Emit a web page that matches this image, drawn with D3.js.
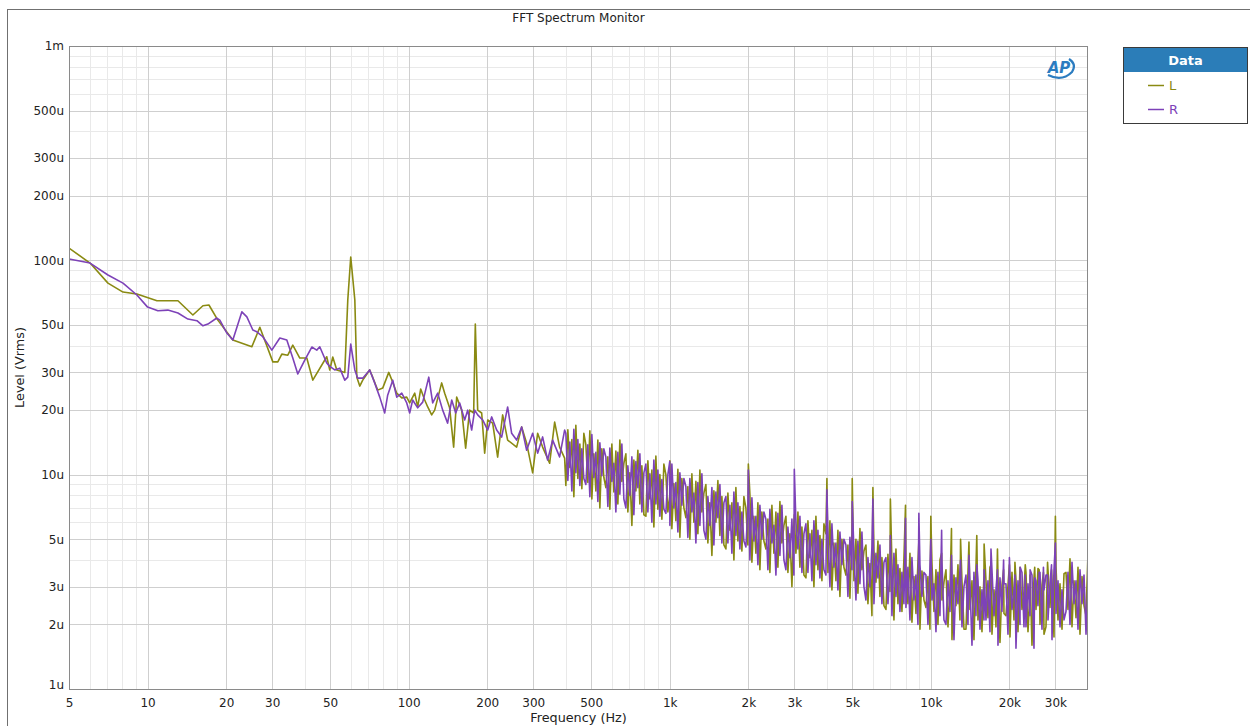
<!DOCTYPE html>
<html>
<head>
<meta charset="utf-8">
<script src="https://cdn.jsdelivr.net/npm/d3@7"></script>
<style>
  html, body { margin: 0; padding: 0; background: #fff; }
  svg { display: block; font-family: "DejaVu Sans", sans-serif; }
</style>
</head>
<body>
<svg id="chart" width="1250" height="726"></svg>
<script>
// ---- axis ticks ----
const xTickValues = [5, 10, 20, 30, 50, 100, 200, 300, 500, 1000, 2000, 3000, 5000, 10000, 20000, 30000];
const xTickLabels = ["5", "10", "20", "30", "50", "100", "200", "300", "500", "1k", "2k", "3k", "5k", "10k", "20k", "30k"];
const yTickValues = [1000, 500, 300, 200, 100, 50, 30, 20, 10, 5, 3, 2, 1];
const yTickLabels = ["1m", "500u", "300u", "200u", "100u", "50u", "30u", "20u", "10u", "5u", "3u", "2u", "1u"];

// ---- low-frequency bins (Hz) and levels (µVrms) ----
const lowFreqL = [5.0, 6.02, 7.05, 8.05, 9.10, 10.86, 13.07, 14.91, 16.29, 17.18, 18.58, 21.21, 25.08, 26.91, 30.18, 31.54, 32.67, 34.44, 35.99, 38.28, 40.72, 42.93, 48.55, 49.87, 51.2, 53.05, 56.93, 58.45, 60.0, 62.2, 63.3, 64.97, 66.7, 70.9, 72.8, 76.1, 79.6, 83.9, 86.9, 90.0, 94.1, 98.3, 100.9, 105.5, 108.3, 111.2, 115.2, 118.3, 122.5, 125.8, 133.8, 137.4, 143.5, 148.7, 152.7, 159.6, 165.3, 171.2, 177.4, 180.0, 183.8, 190.4, 195.5, 200.8, 209.8, 219.2, 229.1, 239.4, 259.2, 270.9, 283.1, 298.5, 311.9, 325.9, 346.7, 362.4, 378.6, 395.7];
const lowLevelL = [114.1, 97.1, 78.3, 71.1, 69.6, 64.8, 64.8, 55.6, 61.4, 61.9, 52.6, 42.5, 39.5, 48.7, 33.6, 33.6, 36.5, 36.1, 40.2, 35.0, 35.0, 27.6, 35.5, 30.8, 35.4, 30.8, 30.0, 65.3, 103.6, 65.3, 28.5, 25.9, 27.6, 30.8, 28.5, 24.8, 25.4, 30.0, 27.0, 24.0, 22.8, 23.0, 21.6, 24.0, 20.7, 25.1, 22.3, 20.7, 19.0, 20.0, 26.8, 24.0, 20.5, 13.45, 23.0, 20.0, 13.3, 20.0, 19.4, 50.5, 20.0, 19.4, 12.6, 18.0, 17.4, 12.08, 19.0, 14.5, 13.45, 16.7, 14.0, 10.2, 15.6, 13.45, 11.3, 17.6, 13.45, 11.95];

const lowFreqR = [5.0, 6.02, 7.05, 8.05, 9.10, 10.0, 10.95, 11.96, 13.07, 14.27, 15.45, 16.29, 17.02, 18.42, 18.91, 20.12, 21.21, 22.97, 24.0, 25.30, 26.21, 27.63, 29.91, 32.10, 34.14, 35.99, 37.61, 40.0, 42.56, 44.46, 45.65, 48.55, 49.87, 52.1, 54.46, 56.93, 58.45, 60.0, 62.2, 63.8, 66.7, 70.9, 74.1, 77.5, 80.96, 83.1, 86.9, 90.0, 94.1, 98.3, 100.9, 103.6, 108.3, 113.2, 119.4, 123.6, 129.2, 135.0, 141.0, 146.2, 151.4, 156.8, 163.9, 168.3, 174.3, 179.0, 183.8, 192.1, 200.8, 207.9, 217.3, 227.1, 239.4, 248.0, 259.2, 270.9, 283.1, 298.5, 311.9, 325.9, 340.6, 356.0, 378.6, 395.7];
const lowLevelR = [101.4, 97.1, 85.4, 78.3, 68.9, 60.5, 58.2, 58.6, 56.8, 53.2, 52.3, 49.5, 50.4, 53.8, 52.6, 45.8, 42.5, 57.5, 54.5, 47.3, 46.4, 44.0, 38.1, 43.4, 42.5, 35.0, 29.5, 34.2, 39.4, 38.1, 39.5, 33.2, 32.0, 30.8, 31.4, 27.6, 28.5, 40.7, 30.8, 28.2, 28.2, 30.8, 26.8, 23.0, 19.4, 23.5, 27.6, 23.0, 24.0, 21.6, 19.4, 22.3, 20.5, 21.8, 28.5, 21.6, 24.0, 20.0, 17.4, 22.3, 19.4, 21.6, 18.0, 20.0, 16.15, 20.0, 19.0, 18.0, 16.15, 18.6, 16.15, 14.97, 20.7, 15.6, 14.5, 16.7, 13.0, 15.6, 12.6, 15.0, 11.7, 14.5, 12.1, 16.15];

// ---- dense spectrum above 400 Hz: levels (µVrms) on a log-spaced display grid ----
const denseStartHz = 400;
const denseEndHz = 40000;
const denseLevelL = [
  8.9, 16.2, 10.8, 14.6, 7.9, 17.0, 9.6, 13.9, 8.6, 15.6,
  13.8, 9.2, 16.0, 7.7, 12.5, 8.4, 14.5, 7.0, 13.2, 9.7,
  8.7, 12.1, 6.9, 13.9, 8.3, 12.9, 7.3, 14.5, 9.3, 11.3,
  12.5, 6.7, 10.2, 5.8, 11.7, 8.4, 13.0, 7.3, 11.0, 6.5,
  6.4, 11.6, 7.7, 10.5, 5.7, 12.2, 6.9, 10.0, 6.2, 11.2,
  10.0, 6.7, 11.6, 5.6, 9.1, 6.1, 10.6, 5.1, 9.6, 7.0,
  6.3, 8.8, 5.0, 10.1, 6.0, 9.3, 5.3, 10.5, 6.7, 8.2,
  9.0, 4.8, 7.4, 4.2, 8.4, 6.0, 9.4, 5.2, 7.9, 4.7,
  4.5, 8.2, 5.5, 7.4, 4.0, 8.7, 4.9, 7.1, 4.4, 7.9,
  7.0, 4.7, 8.1, 3.9, 6.4, 4.3, 7.4, 3.6, 6.7, 4.9,
  4.5, 6.2, 3.5, 7.2, 4.3, 6.7, 3.7, 7.5, 4.8, 5.8,
  6.4, 3.5, 5.3, 3.0, 6.0, 4.3, 6.7, 3.7, 5.7, 3.4,
  3.3, 6.1, 4.1, 5.5, 3.0, 6.4, 3.6, 5.2, 3.2, 5.9,
  5.3, 3.5, 6.1, 2.9, 4.8, 3.2, 5.5, 2.7, 5.0, 3.7,
  3.4, 4.7, 2.65, 5.4, 3.2, 5.0, 2.8, 5.6, 3.6, 4.4,
  4.7, 2.5, 3.85, 2.2, 4.4, 3.15, 4.9, 2.7, 4.1, 2.45,
  2.35, 4.25, 2.85, 3.85, 2.1, 4.5, 2.5, 3.65, 2.3, 4.1,
  3.7, 2.5, 4.3, 2.05, 3.35, 2.25, 3.9, 1.9, 3.55, 2.6,
  2.4, 3.35, 1.9, 3.85, 2.3, 3.6, 2.0, 4.0, 2.6, 3.15,
  3.6, 1.95, 2.95, 1.7, 3.4, 2.45, 3.8, 2.1, 3.2, 1.9,
  1.9, 3.5, 2.35, 3.2, 1.7, 3.7, 2.1, 3.0, 1.85, 3.4,
  3.2, 2.15, 3.7, 1.8, 2.9, 1.95, 3.35, 1.65, 3.05, 2.25,
  2.2, 3.05, 1.75, 3.5, 2.1, 3.25, 1.85, 3.7, 2.35, 2.85,
  3.5, 1.85, 2.85, 1.6, 3.3, 2.35, 3.65, 2.0, 3.05, 1.8,
  1.95, 3.6, 2.4, 3.25, 1.75, 3.75, 2.1, 3.1, 1.9, 3.45,
  3.5, 2.35, 4.05, 1.95, 3.2, 2.15, 3.7, 1.8, 3.35, 2.45,
  2.2, 4.3
];
const denseLevelR = [
  15.6, 9.4, 14.2, 8.4, 16.3, 10.2, 14.6, 8.9, 13.2, 9.6,
  9.0, 13.8, 7.9, 15.4, 9.7, 12.7, 7.5, 14.1, 9.9, 13.2,
  12.1, 7.1, 13.3, 9.3, 11.3, 6.7, 12.7, 8.1, 13.9, 7.7,
  7.0, 11.0, 8.0, 12.1, 6.5, 11.5, 8.7, 12.5, 6.7, 10.2,
  11.2, 6.7, 10.1, 6.0, 11.7, 7.3, 10.5, 6.4, 9.5, 6.9,
  6.6, 10.0, 5.8, 11.2, 7.0, 9.2, 5.4, 10.2, 7.2, 9.6,
  8.8, 5.1, 9.6, 6.7, 8.2, 4.8, 9.2, 5.8, 10.1, 5.5,
  5.0, 7.9, 5.8, 8.7, 4.7, 8.3, 6.3, 9.0, 4.8, 7.4,
  7.9, 4.8, 7.2, 4.3, 8.3, 5.2, 7.4, 4.5, 6.7, 4.9,
  4.6, 7.0, 4.0, 7.8, 4.9, 6.4, 3.8, 7.2, 5.0, 6.7,
  6.2, 3.6, 6.9, 4.8, 5.8, 3.4, 6.6, 4.2, 7.2, 4.0,
  3.6, 5.7, 4.1, 6.2, 3.4, 6.0, 4.5, 6.4, 3.5, 5.3,
  5.9, 3.5, 5.3, 3.2, 6.1, 3.8, 5.5, 3.3, 5.0, 3.6,
  3.4, 5.3, 3.0, 5.9, 3.7, 4.8, 2.9, 5.4, 3.8, 5.0,
  4.7, 2.7, 5.1, 3.6, 4.4, 2.6, 4.9, 3.1, 5.4, 3.0,
  2.6, 4.1, 3.0, 4.6, 2.5, 4.3, 3.3, 4.7, 2.5, 3.9,
  4.1, 2.5, 3.7, 2.2, 4.3, 2.7, 3.8, 2.3, 3.5, 2.5,
  2.4, 3.7, 2.1, 4.1, 2.6, 3.4, 2.0, 3.8, 2.7, 3.5,
  3.4, 2.0, 3.7, 2.6, 3.1, 1.85, 3.5, 2.2, 3.9, 2.1,
  2.0, 3.2, 2.3, 3.5, 1.7, 3.3, 2.5, 3.6, 1.95, 3.0,
  3.4, 2.0, 3.1, 1.6, 3.5, 2.2, 3.2, 1.9, 2.9, 2.1,
  2.1, 3.2, 1.85, 3.6, 2.2, 2.9, 1.6, 3.3, 2.3, 3.1,
  3.1, 1.8, 3.4, 2.35, 2.9, 1.55, 3.2, 2.0, 3.5, 1.95,
  1.95, 3.1, 2.2, 3.4, 1.55, 3.2, 2.45, 3.5, 1.9, 2.9,
  3.4, 2.1, 3.1, 1.7, 3.6, 2.25, 3.2, 1.95, 2.9, 2.1,
  2.3, 3.5, 2.0, 3.9, 2.5, 3.2, 1.9, 3.6, 2.5, 3.4,
  1.8, 3.1
];

// ---- spurs at multiples of 1 kHz (µVrms) ----
const spurFreq = [1000, 2000, 3000, 4000, 5000, 6000, 7000, 8000, 9000, 10000, 11000, 12000, 13000, 14000, 15000, 16000, 17000, 18000, 19000, 20000, 21000, 22000, 23000, 24000, 25000, 26000, 27000, 28000, 29000, 30000];
const spurL = [8.0, 11.2, 6.5, 9.6, 9.6, 8.7, 7.7, 7.2, 4.9, 6.4, 4.3, 5.6, 5.0, 4.85, 5.2, 4.75, 3.8, 4.5, 3.6, 3.8, 3.9, 3.5, 3.8, 3.4, 3.7, 3.6, 3.5, 3.9, 3.6, 6.4];
const spurR = [11.5, 10.5, 10.6, 8.5, 7.5, 7.7, 5.2, 6.25, 6.6, 5.0, 5.5, 4.2, 4.0, 4.2, 3.8, 3.6, 4.5, 3.6, 4.0, 4.1, 3.4, 3.7, 3.4, 3.6, 3.3, 3.5, 3.7, 3.4, 3.8, 4.8];

const colorL = "#8a8a12";
const colorR = "#7d42b8";

// ---- layout ----
const plot = { left: 69, top: 46, right: 1088, bottom: 689 };
const x = d3.scaleLog().domain([5, 40000]).range([plot.left, plot.right]);
const y = d3.scaleLog().domain([1, 1000]).range([plot.bottom, plot.top]);

const svg = d3.select("#chart");

// outer frame
svg.append("rect")
  .attr("x", 7.5).attr("y", 9.5).attr("width", 1260).attr("height", 740)
  .attr("fill", "none").attr("stroke", "#707070");

// title
svg.append("text")
  .attr("x", (plot.left + plot.right) / 2).attr("y", 22)
  .attr("text-anchor", "middle").attr("font-size", 12).attr("fill", "#222")
  .text("FFT Spectrum Monitor");

// ---- grid ----
function leading(v) {
  const p = Math.pow(10, Math.floor(Math.log10(v) + 1e-9));
  return Math.round(v / p);
}
const isMajor = v => [1, 2, 3, 5].includes(leading(v));

const grid = svg.append("g");
const xg = x.ticks().filter(v => v > 5 && v < 40000);
const yg = y.ticks().filter(v => v > 1 && v < 1000);

[false, true].forEach(major => {
  grid.selectAll(null).data(xg.filter(v => isMajor(v) === major)).enter().append("line")
    .attr("x1", d => Math.round(x(d)) + 0.5).attr("x2", d => Math.round(x(d)) + 0.5)
    .attr("y1", plot.top).attr("y2", plot.bottom)
    .attr("stroke", major ? "#cfcfcf" : "#e9e9e9").attr("stroke-width", 1);
  grid.selectAll(null).data(yg.filter(v => isMajor(v) === major)).enter().append("line")
    .attr("y1", d => Math.round(y(d)) + 0.5).attr("y2", d => Math.round(y(d)) + 0.5)
    .attr("x1", plot.left).attr("x2", plot.right)
    .attr("stroke", major ? "#cfcfcf" : "#e9e9e9").attr("stroke-width", 1);
});

// ---- data series ----
function buildSeries(lowF, lowV, denseV, spurV) {
  const n = denseV.length;
  const pts = lowF.map((f, i) => ({ f, v: lowV[i] }));
  denseV.forEach((v, i) => {
    const f = denseStartHz * Math.pow(denseEndHz / denseStartHz, i / (n - 1));
    pts.push({ f, v });
  });
  spurFreq.forEach((f, i) => pts.push({ f, v: spurV[i] }));
  return pts.sort((a, b) => a.f - b.f);
}

const seriesL = buildSeries(lowFreqL, lowLevelL, denseLevelL, spurL);
const seriesR = buildSeries(lowFreqR, lowLevelR, denseLevelR, spurR);

svg.append("clipPath").attr("id", "plotClip")
  .append("rect").attr("x", plot.left).attr("y", plot.top)
  .attr("width", plot.right - plot.left).attr("height", plot.bottom - plot.top);

const line = d3.line().x(d => x(d.f)).y(d => y(d.v));
const traces = svg.append("g").attr("clip-path", "url(#plotClip)");
traces.append("path").datum(seriesL)
  .attr("d", line).attr("fill", "none").attr("stroke", colorL)
  .attr("stroke-width", 1.6).attr("stroke-linejoin", "round");
traces.append("path").datum(seriesR)
  .attr("d", line).attr("fill", "none").attr("stroke", colorR)
  .attr("stroke-width", 1.6).attr("stroke-linejoin", "round");

// plot border
svg.append("rect")
  .attr("x", plot.left + 0.5).attr("y", plot.top + 0.5)
  .attr("width", plot.right - plot.left - 1).attr("height", plot.bottom - plot.top)
  .attr("fill", "none").attr("stroke", "#8a8a8a");

// ---- axes ----
const xAxis = svg.append("g")
  .attr("transform", `translate(0,${plot.bottom})`)
  .call(d3.axisBottom(x).tickValues(xTickValues)
    .tickFormat((d, i) => xTickLabels[i]).tickSize(0).tickPadding(9));
xAxis.select(".domain").remove();
xAxis.selectAll("text").attr("font-size", 12).attr("fill", "#222")
  .attr("font-family", "DejaVu Sans, sans-serif");

const yAxis = svg.append("g")
  .attr("transform", `translate(${plot.left},0)`)
  .call(d3.axisLeft(y).tickValues(yTickValues)
    .tickFormat((d, i) => yTickLabels[i]).tickSize(0).tickPadding(5));
yAxis.select(".domain").remove();
yAxis.selectAll("text").attr("font-size", 12).attr("fill", "#222")
  .attr("font-family", "DejaVu Sans, sans-serif");
yAxis.selectAll(".tick").filter(d => d === 1).select("text").attr("dy", "-0.05em");

// axis titles
svg.append("text")
  .attr("x", (plot.left + plot.right) / 2).attr("y", 722)
  .attr("text-anchor", "middle").attr("font-size", 12.8).attr("fill", "#222")
  .text("Frequency (Hz)");
svg.append("text")
  .attr("transform", `translate(24,${(plot.top + plot.bottom) / 2}) rotate(-90)`)
  .attr("text-anchor", "middle").attr("font-size", 12.8).attr("fill", "#222")
  .text("Level (Vrms)");

// ---- logo ----
const logo = svg.append("g").attr("transform", "translate(1060,68)");
logo.append("path")
  .attr("d", "M-12,7 Q2,14 12,4 Q17,-4 9,-9")
  .attr("fill", "none").attr("stroke", "#2b7cc0").attr("stroke-width", 2.2);
logo.append("text")
  .attr("x", -1).attr("y", 5).attr("text-anchor", "middle")
  .attr("font-size", 15).attr("font-weight", "bold").attr("font-style", "italic")
  .attr("fill", "#2b7cc0").text("AP");

// ---- legend ----
const legend = svg.append("g");
legend.append("rect")
  .attr("x", 1123.5).attr("y", 47.5).attr("width", 124).attr("height", 76)
  .attr("fill", "#fff").attr("stroke", "#3a3a3a");
legend.append("rect")
  .attr("x", 1124).attr("y", 48).attr("width", 123).attr("height", 24)
  .attr("fill", "#2b7db8");
legend.append("text")
  .attr("x", 1185.5).attr("y", 65).attr("text-anchor", "middle")
  .attr("font-size", 13).attr("font-weight", "bold").attr("fill", "#fff")
  .text("Data");
const legendItems = [{ name: "L", color: colorL, cy: 85 }, { name: "R", color: colorR, cy: 109 }];
legendItems.forEach(it => {
  legend.append("line")
    .attr("x1", 1148).attr("x2", 1164).attr("y1", it.cy + 0.5).attr("y2", it.cy + 0.5)
    .attr("stroke", it.color).attr("stroke-width", 1.5);
  legend.append("text")
    .attr("x", 1169).attr("y", it.cy + 5).attr("font-size", 13)
    .attr("fill", it.color).text(it.name);
});
</script>
</body>
</html>
